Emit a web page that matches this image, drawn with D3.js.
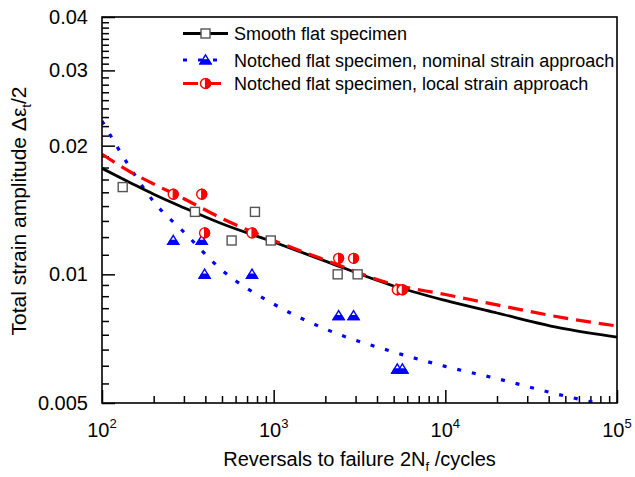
<!DOCTYPE html>
<html>
<head>
<meta charset="utf-8">
<script src="https://cdn.jsdelivr.net/npm/d3@7"></script>
<style>
  body { margin: 0; background: #fff; }
  svg { display: block; }
  text { font-family: "Liberation Sans", Arial, sans-serif; fill: #000; }
</style>
</head>
<body>
<svg id="chart" width="635" height="477"></svg>
<script>
// Strain-life curves, sampled at these reversal counts
const curveReversals = [100, 150, 200, 300, 500, 1000, 2000, 5000, 10000, 20000, 50000, 100000];
const smoothCurve  = [0.0177, 0.0163, 0.0154, 0.01432, 0.01313, 0.0119, 0.01074, 0.00939, 0.00869, 0.00812, 0.00745, 0.00713];
const localCurve   = [0.0191, 0.01726, 0.01627, 0.01503, 0.01351, 0.0120, 0.0108, 0.00947, 0.00897, 0.00848, 0.0079, 0.00757];
const nominalCurve = [0.02285, 0.01745, 0.01479, 0.01256, 0.01023, 0.00852, 0.00745, 0.00658, 0.00609, 0.0057, 0.00519, 0.00489];

// Test results: smooth specimens
const smoothReversals = [132, 348, 569, 778, 962, 2360, 3085];
const smoothStrain    = [0.016, 0.014, 0.012, 0.014, 0.012, 0.010, 0.010];

// Test results: notched specimens (same tests, two evaluation approaches)
const notchedReversals = [260, 381, 396, 748, 2390, 2920, 5250, 5620];
const nominalStrain    = [0.012, 0.012, 0.010, 0.010, 0.008, 0.008, 0.006, 0.006];
const localStrain      = [0.0154, 0.0154, 0.0125, 0.0125, 0.0109, 0.0109, 0.0092, 0.0092];

const xMajorTicks = [100, 1000, 10000, 100000];
const xExponents  = ["2", "3", "4", "5"];
const yMajorTicks = [0.005, 0.01, 0.02, 0.03, 0.04];
const yTickLabels = ["0.005", "0.01", "0.02", "0.03", "0.04"];

const legendLabels = [
  "Smooth flat specimen",
  "Notched flat specimen, nominal strain approach",
  "Notched flat specimen, local strain approach"
];

const svg = d3.select("#chart");
const W = 635, H = 477;
const m = { left: 102, right: 617, top: 17, bottom: 403 };

svg.append("rect").attr("width", W).attr("height", H).attr("fill", "#fff");

const x = d3.scaleLog().domain([100, 100000]).range([m.left, m.right]);
const y = d3.scaleLog().domain([0.005, 0.04]).range([m.bottom, m.top]);

svg.append("defs").append("clipPath").attr("id", "plotClip")
  .append("rect").attr("x", m.left).attr("y", m.top)
  .attr("width", m.right - m.left).attr("height", m.bottom - m.top);

// ---- ticks ----
const xMinor = [];
for (let d = 100; d < 100000; d *= 10) for (let k = 2; k <= 9; k++) xMinor.push(d * k);
const yMinor = [];
for (let i = 0; i < yMajorTicks.length - 1; i++) {
  const a = yMajorTicks[i], b = yMajorTicks[i + 1];
  for (let k = 1; k <= 8; k++) yMinor.push(a + (b - a) * k / 9);
}

const xAxisMinor = d3.axisBottom(x).tickValues(xMinor).tickSize(-7).tickFormat("");
const xAxisMajor = d3.axisBottom(x).tickValues(xMajorTicks).tickSize(-13).tickFormat("");
const yAxisMinor = d3.axisLeft(y).tickValues(yMinor).tickSize(-7).tickFormat("");
const yAxisMajor = d3.axisLeft(y).tickValues(yMajorTicks).tickSize(-13).tickFormat("");

function styleAxis(g) {
  g.select(".domain").remove();
  g.selectAll(".tick line").attr("stroke", "#000").attr("stroke-width", 1.5);
}
svg.append("g").attr("transform", `translate(0,${m.bottom})`).call(xAxisMinor).call(styleAxis);
svg.append("g").attr("transform", `translate(0,${m.bottom})`).call(xAxisMajor).call(styleAxis);
svg.append("g").attr("transform", `translate(${m.left},0)`).call(yAxisMinor).call(styleAxis);
svg.append("g").attr("transform", `translate(${m.left},0)`).call(yAxisMajor).call(styleAxis);

// tick labels
const xl = svg.append("g").selectAll("text").data(xMajorTicks).join("text")
  .attr("x", d => x(d)).attr("y", 437).attr("text-anchor", "middle")
  .attr("font-size", 20);
xl.append("tspan").text("10");
xl.append("tspan").attr("font-size", 13).attr("dy", -9).text((d, i) => xExponents[i]);

svg.append("g").selectAll("text").data(yMajorTicks).join("text")
  .attr("x", 88).attr("y", d => y(d)).attr("dy", 7)
  .attr("text-anchor", "end").attr("font-size", 20)
  .text((d, i) => yTickLabels[i]);

// axis titles
const xt = svg.append("text").attr("x", (m.left + m.right) / 2).attr("y", 466)
  .attr("text-anchor", "middle").attr("font-size", 20);
xt.append("tspan").text("Reversals to failure 2N");
xt.append("tspan").attr("font-size", 13).attr("dy", 5).text("f");
xt.append("tspan").attr("dy", -5).text(" /cycles");

const yt = svg.append("text").attr("transform", "translate(26,211) rotate(-90)")
  .attr("text-anchor", "middle").attr("font-size", 21);
yt.append("tspan").text("Total strain amplitude \u0394\u03b5");
yt.append("tspan").attr("font-size", 13).attr("dy", 5).text("t");
yt.append("tspan").attr("dy", -5).text("/2");

// ---- curves ----
const line = d3.line().x(d => x(d[0])).y(d => y(d[1])).curve(d3.curveMonotoneX);
const plot = svg.append("g").attr("clip-path", "url(#plotClip)");

const styles = {
  smooth:  { stroke: "#000",    width: 2.8, dash: null },
  nominal: { stroke: "#0000ff", width: 3.2, dash: "4 11" },
  local:   { stroke: "#ff0000", width: 3.2, dash: "15 8" }
};

plot.append("path").datum(d3.zip(curveReversals, nominalCurve))
  .attr("d", line).attr("fill", "none").attr("stroke", styles.nominal.stroke)
  .attr("stroke-width", styles.nominal.width).attr("stroke-dasharray", styles.nominal.dash);
plot.append("path").datum(d3.zip(curveReversals, smoothCurve))
  .attr("d", line).attr("fill", "none").attr("stroke", styles.smooth.stroke)
  .attr("stroke-width", styles.smooth.width);
plot.append("path").datum(d3.zip(curveReversals, localCurve))
  .attr("d", line).attr("fill", "none").attr("stroke", styles.local.stroke)
  .attr("stroke-width", styles.local.width).attr("stroke-dasharray", styles.local.dash);

// ---- marker shapes ----
function drawSquare(g, cx, cy) {
  g.append("rect").attr("x", cx - 4.5).attr("y", cy - 4.5).attr("width", 9).attr("height", 9)
    .attr("fill", "#fff").attr("stroke", "#555").attr("stroke-width", 1.4);
}
function drawTriangle(g, cx, cy) {
  const s = 5.2;
  const top = cy - s, bot = cy + s * 0.75;
  g.append("path")
    .attr("d", `M${cx},${top}L${cx + s * 1.05},${bot}L${cx - s * 1.05},${bot}Z`)
    .attr("fill", "#fff").attr("stroke", "#0000ff").attr("stroke-width", 1.4);
  // lower half filled
  const mid = (top + bot) / 2 + 0.5;
  const hw = s * 1.05 * (mid - top) / (bot - top);
  g.append("path")
    .attr("d", `M${cx - hw},${mid}L${cx + hw},${mid}L${cx + s * 1.05},${bot}L${cx - s * 1.05},${bot}Z`)
    .attr("fill", "#0000ff").attr("stroke", "#0000ff").attr("stroke-width", 1.4);
}
function drawHalfCircle(g, cx, cy) {
  const r = 5;
  g.append("circle").attr("cx", cx).attr("cy", cy).attr("r", r)
    .attr("fill", "#fff").attr("stroke", "#ff0000").attr("stroke-width", 1.4);
  g.append("path")
    .attr("d", `M${cx},${cy - r}A${r},${r} 0 0 1 ${cx},${cy + r}Z`)
    .attr("fill", "#ff0000").attr("stroke", "#ff0000").attr("stroke-width", 1.2);
}

const marks = svg.append("g");
smoothReversals.forEach((n, i) => drawSquare(marks, x(n), y(smoothStrain[i])));
notchedReversals.forEach((n, i) => drawTriangle(marks, x(n), y(nominalStrain[i])));
notchedReversals.forEach((n, i) => drawHalfCircle(marks, x(n), y(localStrain[i])));

// ---- frame ----
svg.append("rect").attr("x", m.left).attr("y", m.top)
  .attr("width", m.right - m.left).attr("height", m.bottom - m.top)
  .attr("fill", "none").attr("stroke", "#000").attr("stroke-width", 1.6);

// ---- legend ----
const legend = svg.append("g");
const rowsY = [33.5, 60, 83.5];
const keys = ["smooth", "nominal", "local"];
const drawers = [drawSquare, drawTriangle, drawHalfCircle];
keys.forEach((k, i) => {
  const st = styles[k];
  legend.append("line").attr("x1", 183).attr("x2", 228).attr("y1", rowsY[i]).attr("y2", rowsY[i])
    .attr("stroke", st.stroke).attr("stroke-width", st.width)
    .attr("stroke-dasharray", st.dash);
  drawers[i](legend, 205.5, rowsY[i]);
  legend.append("text").attr("x", 234).attr("y", rowsY[i]).attr("dy", 6.5)
    .attr("font-size", 18).text(legendLabels[i]);
});
</script>
</body>
</html>
